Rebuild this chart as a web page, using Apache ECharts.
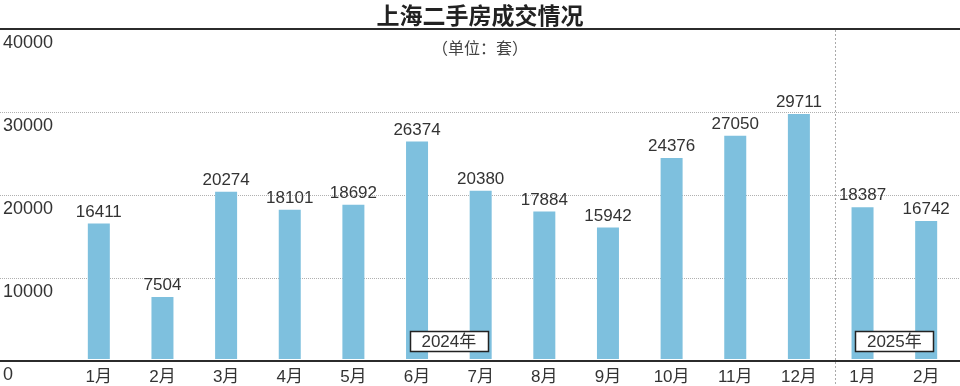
<!DOCTYPE html>
<html>
<head>
<meta charset="utf-8">
<script src="https://cdn.jsdelivr.net/npm/echarts@6/dist/echarts.min.js"></script>
<style>
html,body{margin:0;padding:0;background:#fff;}
#main{width:960px;height:386px;}
</style>
</head>
<body>
<div id="main"></div>
<script>
var titleText = '上海二手房成交情况';
var unitText = '（单位：套）';
var categories = ['1月','2月','3月','4月','5月','6月','7月','8月','9月','10月','11月','12月','1月','2月'];
var values = [16411, 7504, 20274, 18101, 18692, 26374, 20380, 17884, 15942, 24376, 27050, 29711, 18387, 16742];
var yearLabels = ['2024年', '2025年'];
var yearLabelPairs = [[5, 6], [12, 13]];   // category indices the year tag sits between
var yearDividerPair = [11, 12];           // divider between 12月 and 1月
var yMin = 0, yMax = 40000, yInterval = 10000;

var FONT = '"Liberation Sans", "Noto Sans CJK SC", sans-serif';
var CJK = '"Noto Sans CJK SC", sans-serif';
var BLUE = '#7ec0de';
var DARK = '#2b2b2b';

var chart = echarts.init(document.getElementById('main'), null, {renderer: 'canvas'});
var GRID_TOP = 29, GRID_BOTTOM = 25;

chart.setOption({
  animation: false,
  backgroundColor: '#fff',
  title: [
    {text: titleText, left: 'center', top: -1,
     textStyle: {fontFamily: CJK, fontSize: 23, fontWeight: 'bold', color: '#222'}},
    {text: unitText, left: 'center', top: 35,
     textStyle: {fontFamily: CJK, fontSize: 16, fontWeight: 'normal', color: '#444'}}
  ],
  grid: [
    {left: 0, right: 0, top: GRID_TOP, bottom: GRID_BOTTOM},
    {left: 67, right: 2, top: GRID_TOP, bottom: GRID_BOTTOM}
  ],
  xAxis: [
    {gridIndex: 0, type: 'category', data: [''], position: 'bottom',
     axisLine: {show: true, lineStyle: {color: DARK, width: 2}},
     axisTick: {show: false}, axisLabel: {show: false}, splitLine: {show: false}},
    {gridIndex: 1, type: 'category', data: categories, position: 'bottom',
     axisLine: {show: false}, axisTick: {show: false},
     axisLabel: {show: true, interval: 0, margin: 10, fontFamily: FONT, fontSize: 17, color: '#333'},
     splitLine: {show: false}},
    {gridIndex: 0, type: 'category', data: [''], position: 'top',
     axisLine: {show: true, lineStyle: {color: DARK, width: 2}},
     axisTick: {show: false}, axisLabel: {show: false}, splitLine: {show: false}}
  ],
  yAxis: [
    {gridIndex: 0, type: 'value', min: yMin, max: yMax, interval: yInterval,
     axisLine: {show: false}, axisTick: {show: false},
     axisLabel: {show: true, inside: true, margin: 3, align: 'left', verticalAlign: 'top',
                 padding: [5, 0, 0, 0],
                 formatter: function (v) { return String(v); },
                 fontFamily: FONT, fontSize: 18, color: '#333'},
     splitLine: {show: true, lineStyle: {color: '#b0b0b0', type: 'dotted', width: 1}}},
    {gridIndex: 1, type: 'value', min: yMin, max: yMax, interval: yInterval,
     axisLine: {show: false}, axisTick: {show: false}, axisLabel: {show: false},
     splitLine: {show: false}}
  ],
  series: [{
    type: 'bar', xAxisIndex: 1, yAxisIndex: 1,
    data: values, barWidth: 22,
    itemStyle: {color: BLUE},
    label: {show: true, position: 'top', distance: 3,
            fontFamily: FONT, fontSize: 17, color: '#333'}
  }]
});

// Place the year tags and the divider using the axis scale
function px(idx) { return chart.convertToPixel({xAxisIndex: 1}, idx); }
var zeroY = chart.convertToPixel({yAxisIndex: 1}, 0);
var topY = chart.convertToPixel({yAxisIndex: 1}, yMax);
var graphics = [];
var divX = Math.round((px(yearDividerPair[0]) + px(yearDividerPair[1])) / 2) + 4.5;
graphics.push({
  type: 'line', z: 1,
  shape: {x1: divX, y1: topY + 1, x2: divX, y2: 386},
  style: {stroke: '#aaa', lineWidth: 1, lineDash: [2, 2]}
});
yearLabels.forEach(function (t, i) {
  var cx = (px(yearLabelPairs[i][0]) + px(yearLabelPairs[i][1])) / 2;
  var w = 78, h = 20;
  var cy = zeroY - 18;
  graphics.push({
    type: 'rect', z: 100,
    shape: {x: Math.round(cx - w / 2) + 0.5, y: Math.round(cy - h / 2) + 0.5, width: w, height: h},
    style: {fill: '#fff', stroke: '#222', lineWidth: 1.5}
  });
  graphics.push({
    type: 'text', z: 101,
    style: {x: cx, y: cy + 1, text: t, align: 'center', verticalAlign: 'middle',
            font: '17px ' + FONT, fill: '#333'}
  });
});
chart.setOption({graphic: graphics});
</script>
</body>
</html>
